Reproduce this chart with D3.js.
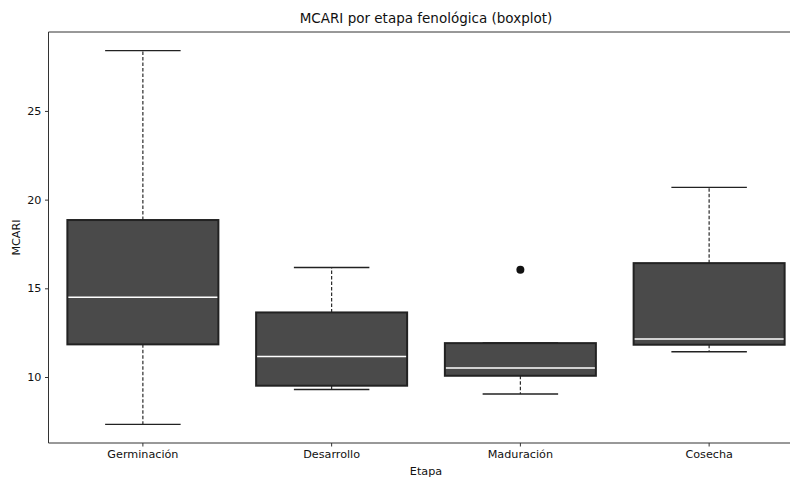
<!DOCTYPE html>
<html><head><meta charset="utf-8">
<script src="https://cdn.jsdelivr.net/npm/d3@7"></script>
<style>body{margin:0;background:#fff}svg{display:block;font-family:"DejaVu Sans",sans-serif}</style>
</head><body><svg id="c" width="790" height="479"></svg>
<script>
const categories = ["Germinación","Desarrollo","Maduración","Cosecha"];
const whiskerLow  = [7.33, 9.30, 9.04, 11.42];
const q1          = [11.84, 9.51, 10.07, 11.82];
const median      = [14.50, 11.16, 10.51, 12.14];
const q3          = [18.85, 13.64, 11.91, 16.42];
const whiskerHigh = [28.40, 16.17, 11.92, 20.69];
const outliers    = [[], [], [16.04], []];
const yTicks = [10, 15, 20, 25];

const svg = d3.select("#c");
const m = {l:48.5, r:803.5, t:32, b:443};
const x = d3.scaleBand().domain(categories).range([m.l, m.r]).paddingInner(0).paddingOuter(0);
const y = d3.scaleLinear().domain([6.28, 29.45]).range([m.b, m.t]);
const bw = x.bandwidth()*0.8;

const g = svg.append("g");
categories.forEach((c,i)=>{
  const cx = x(c) + x.bandwidth()/2;
  g.append("line").attr("x1",cx).attr("x2",cx).attr("y1",y(q3[i])).attr("y2",y(whiskerHigh[i]))
    .attr("stroke","#2a2a2a").attr("stroke-width",1.2).attr("stroke-dasharray","3.5,2");
  g.append("line").attr("x1",cx).attr("x2",cx).attr("y1",y(q1[i])).attr("y2",y(whiskerLow[i]))
    .attr("stroke","#2a2a2a").attr("stroke-width",1.2).attr("stroke-dasharray","3.5,2");
  [whiskerLow[i], whiskerHigh[i]].forEach(v=>{
    g.append("line").attr("x1",cx-bw/4).attr("x2",cx+bw/4).attr("y1",y(v)).attr("y2",y(v))
      .attr("stroke","#222").attr("stroke-width",1.4);
  });
  g.append("rect").attr("x",cx-bw/2).attr("width",bw).attr("y",y(q3[i])).attr("height",y(q1[i])-y(q3[i]))
    .attr("fill","#4a4a4a").attr("stroke","#222").attr("stroke-width",2);
  g.append("line").attr("x1",cx-bw/2+1).attr("x2",cx+bw/2-1).attr("y1",y(median[i])).attr("y2",y(median[i]))
    .attr("stroke","#fff").attr("stroke-width",1.6);
  outliers[i].forEach(v=>{
    g.append("circle").attr("cx",cx).attr("cy",y(v)).attr("r",4).attr("fill","#111");
  });
});

const ax = svg.append("g").attr("transform",`translate(0,${m.b})`)
  .call(d3.axisBottom(x).tickSize(3.5).tickPadding(4));
const ay = svg.append("g").attr("transform",`translate(${m.l},0)`)
  .call(d3.axisLeft(y).tickValues(yTicks).tickSize(3.5).tickPadding(3.5));
[ax, ay].forEach(a=>{
  a.select(".domain").remove();
  a.selectAll("text").attr("font-size","11.2px").attr("fill","#111").attr("font-family","DejaVu Sans");
  a.selectAll("line").attr("stroke","#333");
});
svg.append("line").attr("x1",m.l).attr("x2",m.r).attr("y1",m.t).attr("y2",m.t).attr("stroke","#333").attr("stroke-width",1);
svg.append("line").attr("x1",m.l).attr("x2",m.r).attr("y1",m.b).attr("y2",m.b).attr("stroke","#333").attr("stroke-width",1);
svg.append("line").attr("x1",m.l).attr("x2",m.l).attr("y1",m.t).attr("y2",m.b).attr("stroke","#333").attr("stroke-width",1);

const cxm = (m.l+m.r)/2;
svg.append("text").attr("x",cxm).attr("y",23).attr("text-anchor","middle").attr("font-size","13.5px").attr("fill","#111")
  .text("MCARI por etapa fenológica (boxplot)");
svg.append("text").attr("x",cxm).attr("y",475).attr("text-anchor","middle").attr("font-size","11.2px").attr("fill","#111").text("Etapa");
svg.append("text").attr("transform",`translate(20,${(m.t+m.b)/2}) rotate(-90)`).attr("text-anchor","middle")
  .attr("font-size","11.2px").attr("fill","#111").text("MCARI");
</script></body></html>
